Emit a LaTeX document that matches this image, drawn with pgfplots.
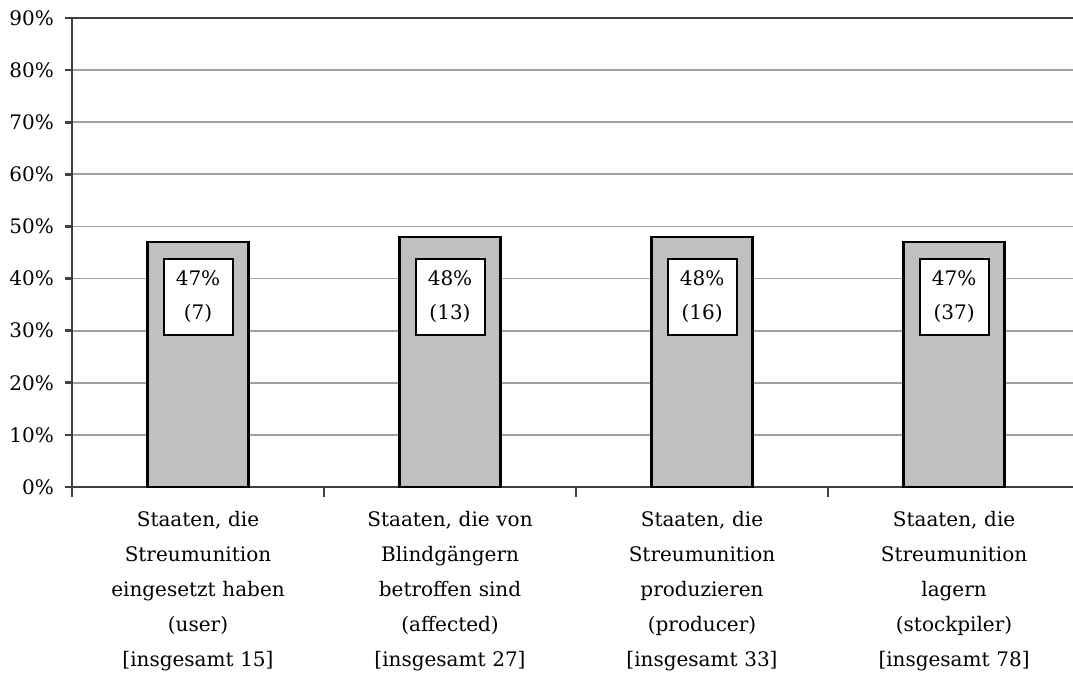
\documentclass[border=0pt]{standalone}
\usepackage{pgfplots}
\pgfplotsset{compat=1.18}
\usepackage{fontspec}
\setmainfont{DejaVu Serif}
\definecolor{axisgray}{HTML}{404040}
\definecolor{gridgray}{HTML}{A0A0A0}
\definecolor{barfill}{HTML}{C0C0C0}
\begin{document}
\begin{tikzpicture}[font=\fontsize{10}{17.5}\selectfont]
\begin{axis}[
  scale only axis, width=500.5pt, height=234.5pt,
  xmin=-0.5, xmax=3.472, ymin=0, ymax=90,
  axis x line*=bottom, axis y line*=left,
  axis line style={draw=axisgray, line width=1.3pt, -},
  ytick={0,10,...,90},
  yticklabel={\pgfmathprintnumber{\tick}\%},
  /pgf/number format/assume math mode=true,
  ymajorgrids, grid style={draw=gridgray, line width=0.85pt},
  xtick={0,1,2,3},
  xticklabels={
    {Staaten, die\\Streumunition\\eingesetzt haben\\(user)\\{[}insgesamt 15{]}},
    {Staaten, die von\\Blindgängern\\betroffen sind\\(affected)\\{[}insgesamt 27{]}},
    {Staaten, die\\Streumunition\\produzieren\\(producer)\\{[}insgesamt 33{]}},
    {Staaten, die\\Streumunition\\lagern\\(stockpiler)\\{[}insgesamt 78{]}}},
  major x tick style={draw=none},
  minor xtick={-0.5,0.5,1.5,2.5},
  minor x tick style={draw=axisgray, line width=1pt},
  minor tick length=5pt,
  major y tick style={draw=axisgray, line width=1.3pt},
  major tick length=3.5pt,
  tick align=outside,
  x tick label style={align=center, text width=100pt, font=\fontsize{10}{17.5}\selectfont, inner sep=0pt, yshift=-8.5pt},
  y tick label style={font=\fontsize{10}{12}\selectfont, xshift=-2pt},
  clip=false,
]
\addplot[ybar, bar width=50.5pt, fill=barfill, draw=black, line width=1.15pt]
  coordinates {(0,47) (1,48) (2,48) (3,47)};
\addplot[draw=none, nodes near coords, point meta=explicit symbolic,
  every node near coord/.style={anchor=center, fill=white, draw=black, line width=1pt,
    align=center, minimum width=34.5pt, minimum height=38pt, inner sep=0pt,
    font=\fontsize{10}{17}\selectfont}]
  coordinates {(0,36.5) [47\%\\(7)] (1,36.5) [48\%\\(13)] (2,36.5) [48\%\\(16)] (3,36.5) [47\%\\(37)]};
\draw[draw=axisgray, line width=1.3pt] (rel axis cs:0,1) -- (rel axis cs:1,1);
\coordinate (bl) at (rel axis cs:0,0);
\coordinate (tr) at (rel axis cs:1,1);
\end{axis}
\pgfresetboundingbox
\path ([shift={(-36pt,-93.5pt)}]bl) rectangle ([shift={(0pt,9pt)}]tr);
\end{tikzpicture}
\end{document}
